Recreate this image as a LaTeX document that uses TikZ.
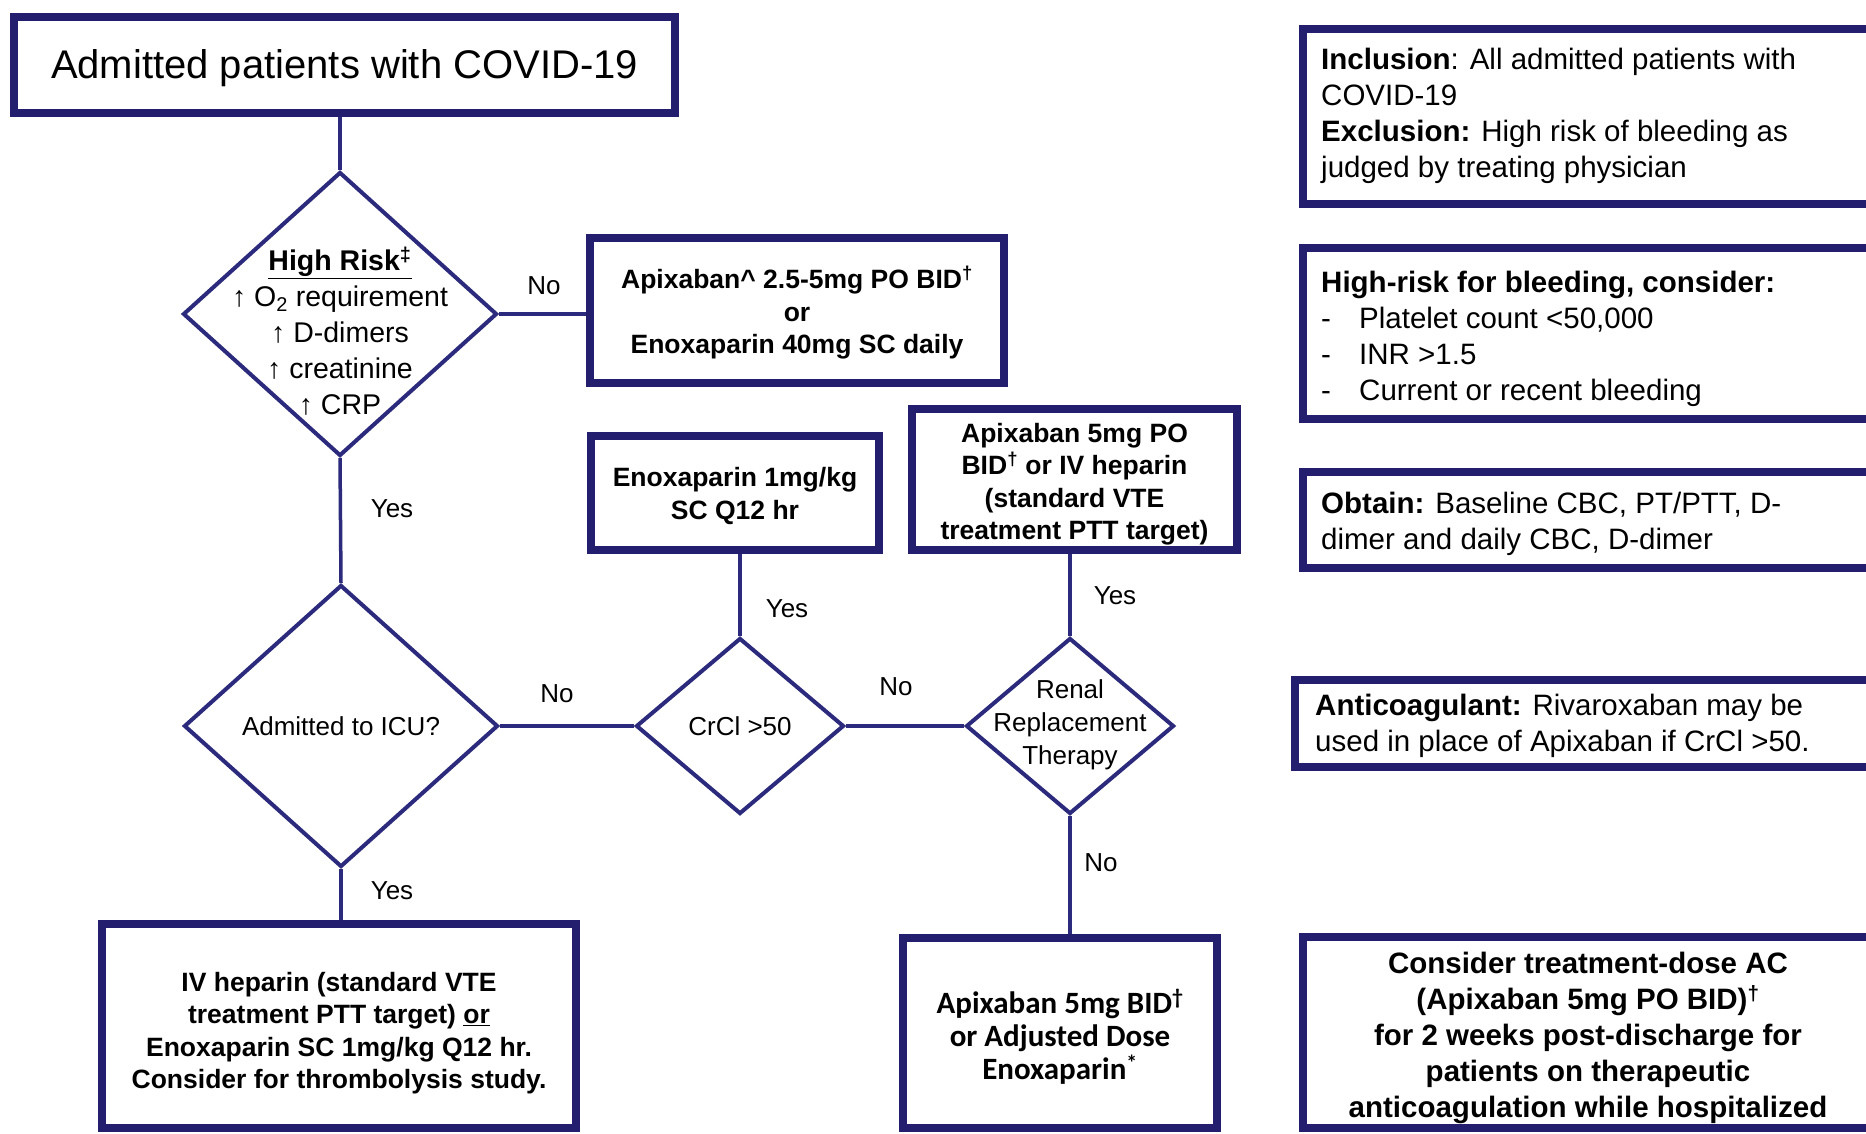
\documentclass[tikz,border=0pt]{standalone}
\usepackage{fontspec}
\setmainfont{Liberation Sans}
\newfontfamily\calfont{Carlito}
\usetikzlibrary{shapes.geometric}
\definecolor{navy}{HTML}{231E6E}
\definecolor{dnavy}{HTML}{2B2A7C}
\begin{document}
\begin{tikzpicture}[x=1pt,y=-1pt,
  box/.style={draw=navy, line width=8pt, fill=white, inner sep=0pt},
  boxfont/.style={font=\fontsize{26.5}{32.5}\selectfont\bfseries},
  dia/.style={draw=dnavy, line width=4pt, diamond, inner sep=0pt, fill=white, text=black},
  conn/.style={draw=dnavy, line width=3.5pt},
  lab/.style={font=\fontsize{26}{30}\selectfont, inner sep=0pt, text=black},
  rtext/.style={font=\fontsize{29.5}{36}\selectfont, align=left, inner sep=0pt, anchor=west, text=black},
  dtext/.style={inner sep=0pt, align=center, text=black}
]
\useasboundingbox (0,0) rectangle (1866,1134);
\fill[white] (0,0) rectangle (1866,1134);
\clip (0,0) rectangle (1866,1134);

% left flow
\node[box, minimum width=661, minimum height=96] (title) at (344.5,65) {};
\node[dtext, font=\fontsize{40}{48}\selectfont] (titlet) at (344.5,68.5) {Admitted patients with COVID-19};

\node[dia, minimum width=314, minimum height=284] (d1) at (340,314) {};
\node[dtext, font=\fontsize{28.5}{36}\selectfont] (d1t) at (340,331)
  {\textbf{\underline{High Risk\textsuperscript{‡}}}\\↑ O\textsubscript{2} requirement\\↑ D-dimers\\↑ creatinine\\↑ CRP};

\node[box, minimum width=414, minimum height=145] (apix25) at (797,310.5) {};
\node[dtext, boxfont] (apix25t) at (797,313)
  {Apixaban\textasciicircum{} 2.5-5mg PO BID\textsuperscript{†}\\or\\Enoxaparin 40mg SC daily};

\node[dia, minimum width=314, minimum height=282, font=\fontsize{26}{30}\selectfont] (d2) at (341,726) {Admitted to ICU?};
\node[dia, minimum width=208, minimum height=176, font=\fontsize{26}{30}\selectfont] (d3) at (740,726) {CrCl >50};
\node[dia, minimum width=208, minimum height=176] (d4) at (1070,726) {};
\node[dtext, font=\fontsize{26}{33}\selectfont] (d4t) at (1070,725) {Renal\\Replacement\\Therapy};

\node[box, minimum width=288, minimum height=114] (enox) at (735,493) {};
\node[dtext, boxfont] (enoxt) at (735,496) {Enoxaparin 1mg/kg\\SC Q12 hr};

\node[box, minimum width=325, minimum height=141] (apix5po) at (1074.5,479.5) {};
\node[dtext, boxfont] (apix5pot) at (1074.5,484)
  {Apixaban 5mg PO\\BID\textsuperscript{†} or IV heparin\\(standard VTE\\treatment PTT target)};

\node[box, minimum width=474, minimum height=204] (ivhep) at (339,1026) {};
\node[dtext, boxfont] (ivhept) at (339,1033)
  {IV heparin (standard VTE\\treatment PTT target) \underline{or}\\Enoxaparin SC 1mg/kg Q12 hr.\\Consider for thrombolysis study.};

\node[box, minimum width=314, minimum height=190] (apix5bid) at (1060,1033) {};
\node[dtext, font=\calfont\fontsize{31}{33}\selectfont\bfseries] (apix5bidt) at (1060,1037)
  {Apixaban 5mg BID\textsuperscript{†}\\or Adjusted Dose\\Enoxaparin\textsuperscript{*}};

% connectors
\draw[conn] (d1.north |- title.south) -- (d1.north);
\draw[conn] (d1.east) -- (d1.east -| apix25.west);
\draw[conn] (d1.south) -- (d2.north);
\draw[conn] (d2.east) -- (d3.west);
\draw[conn] (d3.north) -- (d3.north |- enox.south);
\draw[conn] (d3.east) -- (d4.west);
\draw[conn] (d4.north) -- (d4.north |- apix5po.south);
\draw[conn] (d4.south) -- (d4.south |- apix5bid.north);
\draw[conn] (d2.south) -- (d2.south |- ivhep.north);

% labels
\node[lab] (l1) at (544,286) {No};
\node[lab] (l2) at (392,509) {Yes};
\node[lab] (l3) at (557,694) {No};
\node[lab] (l4) at (787,609) {Yes};
\node[lab] (l5) at (896,687) {No};
\node[lab] (l6) at (1115,596) {Yes};
\node[lab] (l7) at (1101,863) {No};
\node[lab] (l8) at (392,891) {Yes};

% right column
\node[box, minimum width=613, minimum height=175] (incl) at (1609.5,116.5) {};
\node[rtext] (inclt) at (1321,115.5)
  {\textbf{Inclusion}: All admitted patients with\\COVID-19\\\textbf{Exclusion:} High risk of bleeding as\\judged by treating physician};

\node[box, minimum width=613, minimum height=171] (hrb) at (1609.5,333.5) {};
\node[rtext] (hrbt) at (1321,339)
  {\textbf{High-risk for bleeding, consider:}\\\makebox[38pt][l]{-}Platelet count <50,000\\\makebox[38pt][l]{-}INR >1.5\\\makebox[38pt][l]{-}Current or recent bleeding};

\node[box, minimum width=613, minimum height=96] (obt) at (1609.5,520) {};
\node[rtext] (obtt) at (1321,524)
  {\textbf{Obtain:} Baseline CBC, PT/PTT, D-\\dimer and daily CBC, D-dimer};

\node[box, minimum width=621, minimum height=87] (antic) at (1605.5,723.5) {};
\node[rtext] (antict) at (1315,726)
  {\textbf{Anticoagulant:} Rivaroxaban may be\\used in place of Apixaban if CrCl >50.};

\node[box, minimum width=613, minimum height=191] (cons) at (1609.5,1032.5) {};
\node[dtext, font=\fontsize{29.5}{36}\selectfont\bfseries] (const) at (1588,1038)
  {Consider treatment-dose AC\\(Apixaban 5mg PO BID)\textsuperscript{†}\\for 2 weeks post-discharge for\\patients on therapeutic\\anticoagulation while hospitalized};
\end{tikzpicture}
\end{document}
